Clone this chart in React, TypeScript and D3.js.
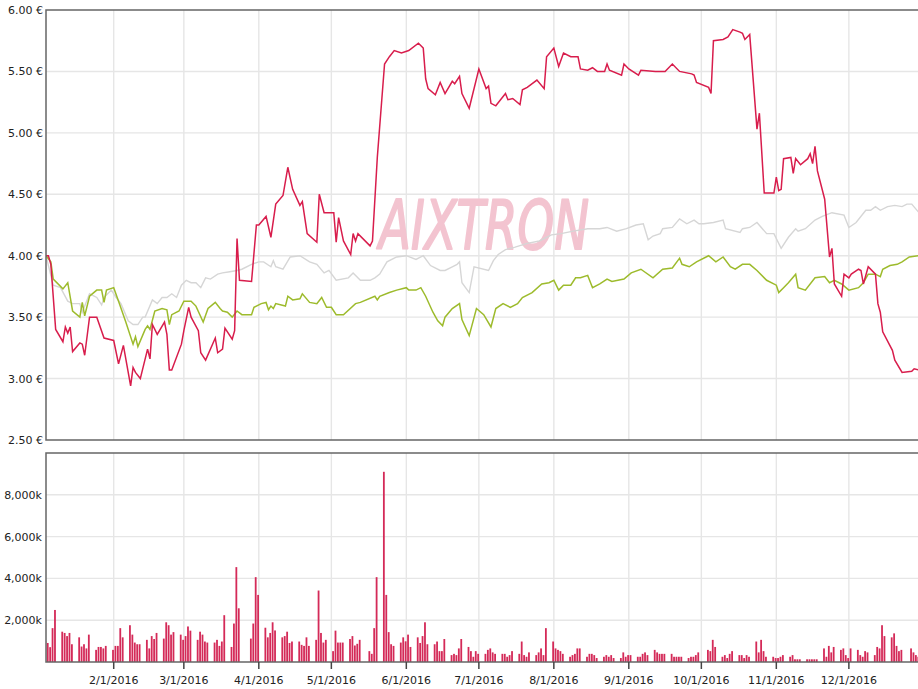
import React, { useEffect, useRef } from "react";
import * as d3 from "d3";

// AIXTRON closing price in EUR, 2016
const aixtronPrice: [string, number][] = [
  ["2016-01-04", 4.0], ["2016-01-05", 4.0], ["2016-01-06", 3.93], ["2016-01-08", 3.4],
  ["2016-01-11", 3.3], ["2016-01-12", 3.42], ["2016-01-13", 3.37], ["2016-01-14", 3.42],
  ["2016-01-15", 3.22], ["2016-01-18", 3.29], ["2016-01-19", 3.28], ["2016-01-20", 3.19],
  ["2016-01-22", 3.5], ["2016-01-25", 3.5], ["2016-01-28", 3.33], ["2016-02-01", 3.31],
  ["2016-02-03", 3.12], ["2016-02-05", 3.27], ["2016-02-08", 2.94], ["2016-02-09", 3.09],
  ["2016-02-10", 3.05], ["2016-02-12", 3.0], ["2016-02-15", 3.24], ["2016-02-16", 3.16],
  ["2016-02-17", 3.44], ["2016-02-19", 3.36], ["2016-02-22", 3.46], ["2016-02-23", 3.36],
  ["2016-02-24", 3.07], ["2016-02-25", 3.07], ["2016-02-29", 3.28], ["2016-03-01", 3.39],
  ["2016-03-03", 3.58], ["2016-03-04", 3.5], ["2016-03-07", 3.39], ["2016-03-08", 3.21],
  ["2016-03-10", 3.15], ["2016-03-14", 3.33], ["2016-03-15", 3.21], ["2016-03-17", 3.24],
  ["2016-03-18", 3.41], ["2016-03-21", 3.32], ["2016-03-22", 3.39], ["2016-03-23", 4.14],
  ["2016-03-24", 3.8], ["2016-03-29", 3.79], ["2016-03-31", 4.25], ["2016-04-01", 4.25],
  ["2016-04-04", 4.32], ["2016-04-06", 4.15], ["2016-04-08", 4.42], ["2016-04-11", 4.49],
  ["2016-04-13", 4.72], ["2016-04-15", 4.54], ["2016-04-18", 4.41], ["2016-04-19", 4.44],
  ["2016-04-21", 4.18], ["2016-04-25", 4.11], ["2016-04-26", 4.5], ["2016-04-28", 4.35],
  ["2016-05-02", 4.35], ["2016-05-03", 4.11], ["2016-05-04", 4.31], ["2016-05-06", 4.12],
  ["2016-05-09", 4.01], ["2016-05-10", 4.18], ["2016-05-11", 4.12], ["2016-05-12", 4.18],
  ["2016-05-17", 4.08], ["2016-05-18", 4.12], ["2016-05-20", 4.8], ["2016-05-23", 5.56],
  ["2016-05-25", 5.62], ["2016-05-27", 5.67], ["2016-05-30", 5.65], ["2016-06-02", 5.67],
  ["2016-06-06", 5.73], ["2016-06-08", 5.69], ["2016-06-09", 5.44], ["2016-06-10", 5.36],
  ["2016-06-13", 5.31], ["2016-06-15", 5.41], ["2016-06-17", 5.32], ["2016-06-20", 5.42],
  ["2016-06-21", 5.4], ["2016-06-23", 5.46], ["2016-06-24", 5.32], ["2016-06-27", 5.2],
  ["2016-07-01", 5.52], ["2016-07-04", 5.36], ["2016-07-05", 5.38], ["2016-07-06", 5.24],
  ["2016-07-08", 5.22], ["2016-07-12", 5.32], ["2016-07-13", 5.27], ["2016-07-15", 5.28],
  ["2016-07-18", 5.23], ["2016-07-19", 5.35], ["2016-07-21", 5.37], ["2016-07-25", 5.43],
  ["2016-07-28", 5.36], ["2016-07-29", 5.62], ["2016-08-01", 5.69], ["2016-08-03", 5.54],
  ["2016-08-05", 5.65], ["2016-08-08", 5.62], ["2016-08-11", 5.62], ["2016-08-12", 5.52],
  ["2016-08-15", 5.51], ["2016-08-17", 5.53], ["2016-08-19", 5.5], ["2016-08-22", 5.5],
  ["2016-08-23", 5.56], ["2016-08-24", 5.51], ["2016-08-29", 5.47], ["2016-08-30", 5.56],
  ["2016-09-01", 5.52], ["2016-09-05", 5.47], ["2016-09-06", 5.51], ["2016-09-12", 5.5],
  ["2016-09-16", 5.5], ["2016-09-19", 5.56], ["2016-09-22", 5.5], ["2016-09-27", 5.48],
  ["2016-09-28", 5.47], ["2016-09-29", 5.41], ["2016-10-04", 5.37], ["2016-10-05", 5.32],
  ["2016-10-06", 5.75], ["2016-10-10", 5.76], ["2016-10-12", 5.78], ["2016-10-14", 5.84],
  ["2016-10-17", 5.82], ["2016-10-18", 5.81], ["2016-10-19", 5.76], ["2016-10-21", 5.8],
  ["2016-10-24", 5.03], ["2016-10-25", 5.16], ["2016-10-27", 4.51], ["2016-10-31", 4.51],
  ["2016-11-01", 4.64], ["2016-11-02", 4.53], ["2016-11-03", 4.54], ["2016-11-04", 4.79],
  ["2016-11-07", 4.8], ["2016-11-08", 4.67], ["2016-11-09", 4.79], ["2016-11-11", 4.74],
  ["2016-11-14", 4.79], ["2016-11-15", 4.83], ["2016-11-16", 4.75], ["2016-11-17", 4.89],
  ["2016-11-18", 4.69], ["2016-11-21", 4.46], ["2016-11-23", 3.99], ["2016-11-24", 4.06],
  ["2016-11-25", 3.77], ["2016-11-28", 3.67], ["2016-11-29", 3.85], ["2016-12-01", 3.82],
  ["2016-12-02", 3.85], ["2016-12-05", 3.89], ["2016-12-06", 3.88], ["2016-12-07", 3.77],
  ["2016-12-09", 3.91], ["2016-12-12", 3.85], ["2016-12-13", 3.61], ["2016-12-14", 3.54],
  ["2016-12-15", 3.38], ["2016-12-19", 3.23], ["2016-12-20", 3.15], ["2016-12-23", 3.05],
  ["2016-12-27", 3.06], ["2016-12-28", 3.08], ["2016-12-30", 3.07],
];

// benchmark (grey), rebased to the start price
const benchGrey: [string, number][] = [
  ["2016-01-04", 4.0], ["2016-01-07", 3.76], ["2016-01-10", 3.74], ["2016-01-13", 3.63],
  ["2016-01-15", 3.61], ["2016-01-18", 3.61], ["2016-01-19", 3.54], ["2016-01-22", 3.69],
  ["2016-01-25", 3.66], ["2016-01-27", 3.6], ["2016-01-28", 3.66], ["2016-01-31", 3.72],
  ["2016-02-02", 3.66], ["2016-02-04", 3.61], ["2016-02-07", 3.47], ["2016-02-09", 3.44],
  ["2016-02-11", 3.44], ["2016-02-13", 3.5], ["2016-02-14", 3.5], ["2016-02-17", 3.64],
  ["2016-02-19", 3.61], ["2016-02-21", 3.66], ["2016-02-23", 3.66], ["2016-02-25", 3.69],
  ["2016-02-27", 3.66], ["2016-02-29", 3.76], ["2016-03-02", 3.8], ["2016-03-04", 3.78],
  ["2016-03-06", 3.78], ["2016-03-08", 3.74], ["2016-03-10", 3.82], ["2016-03-12", 3.81],
  ["2016-03-15", 3.85], ["2016-03-17", 3.86], ["2016-03-20", 3.87], ["2016-03-23", 3.88],
  ["2016-03-25", 3.89], ["2016-03-29", 3.93], ["2016-04-01", 3.95], ["2016-04-03", 3.95],
  ["2016-04-06", 3.91], ["2016-04-07", 3.96], ["2016-04-08", 3.91], ["2016-04-11", 3.89],
  ["2016-04-14", 3.99], ["2016-04-18", 4.0], ["2016-04-22", 3.95], ["2016-04-25", 3.93],
  ["2016-04-28", 3.86], ["2016-04-30", 3.88], ["2016-05-03", 3.8], ["2016-05-08", 3.82],
  ["2016-05-10", 3.86], ["2016-05-13", 3.8], ["2016-05-17", 3.8], ["2016-05-19", 3.82],
  ["2016-05-21", 3.85], ["2016-05-24", 3.95], ["2016-05-28", 3.99], ["2016-06-01", 4.0],
  ["2016-06-05", 3.97], ["2016-06-08", 4.0], ["2016-06-11", 3.92], ["2016-06-15", 3.88],
  ["2016-06-17", 3.88], ["2016-06-20", 3.91], ["2016-06-22", 3.93], ["2016-06-23", 3.95],
  ["2016-06-24", 3.78], ["2016-06-27", 3.7], ["2016-06-29", 3.91], ["2016-07-05", 3.88],
  ["2016-07-07", 3.96], ["2016-07-09", 4.01], ["2016-07-12", 4.05], ["2016-07-16", 4.07],
  ["2016-07-21", 4.1], ["2016-07-26", 4.12], ["2016-07-31", 4.17], ["2016-08-04", 4.18],
  ["2016-08-09", 4.2], ["2016-08-15", 4.22], ["2016-08-20", 4.22], ["2016-08-23", 4.23],
  ["2016-08-27", 4.2], ["2016-08-31", 4.22], ["2016-09-04", 4.25], ["2016-09-07", 4.26],
  ["2016-09-09", 4.13], ["2016-09-11", 4.16], ["2016-09-14", 4.18], ["2016-09-15", 4.22],
  ["2016-09-19", 4.23], ["2016-09-22", 4.3], ["2016-09-25", 4.26], ["2016-09-28", 4.29],
  ["2016-09-30", 4.26], ["2016-10-02", 4.26], ["2016-10-06", 4.27], ["2016-10-10", 4.29],
  ["2016-10-11", 4.22], ["2016-10-17", 4.19], ["2016-10-18", 4.22], ["2016-10-21", 4.23],
  ["2016-10-24", 4.27], ["2016-10-28", 4.18], ["2016-10-31", 4.18], ["2016-11-03", 4.06],
  ["2016-11-06", 4.15], ["2016-11-09", 4.22], ["2016-11-10", 4.2], ["2016-11-13", 4.22],
  ["2016-11-17", 4.29], ["2016-11-20", 4.32], ["2016-11-24", 4.35], ["2016-11-29", 4.33],
  ["2016-12-01", 4.23], ["2016-12-04", 4.27], ["2016-12-08", 4.37], ["2016-12-10", 4.37],
  ["2016-12-12", 4.4], ["2016-12-14", 4.37], ["2016-12-17", 4.4], ["2016-12-20", 4.41],
  ["2016-12-23", 4.4], ["2016-12-25", 4.42], ["2016-12-27", 4.42], ["2016-12-30", 4.35],
];

// benchmark (green), rebased to the start price
const benchGreen: [string, number][] = [
  ["2016-01-04", 4.0], ["2016-01-06", 3.95], ["2016-01-07", 3.81], ["2016-01-11", 3.73],
  ["2016-01-13", 3.78], ["2016-01-15", 3.55], ["2016-01-18", 3.5], ["2016-01-19", 3.62],
  ["2016-01-20", 3.51], ["2016-01-22", 3.67], ["2016-01-25", 3.72], ["2016-01-27", 3.72],
  ["2016-01-28", 3.62], ["2016-01-29", 3.72], ["2016-02-01", 3.74], ["2016-02-03", 3.63],
  ["2016-02-06", 3.46], ["2016-02-09", 3.28], ["2016-02-10", 3.34], ["2016-02-11", 3.26],
  ["2016-02-14", 3.4], ["2016-02-15", 3.43], ["2016-02-16", 3.4], ["2016-02-18", 3.55],
  ["2016-02-21", 3.57], ["2016-02-23", 3.56], ["2016-02-24", 3.44], ["2016-02-25", 3.52],
  ["2016-02-28", 3.55], ["2016-03-01", 3.63], ["2016-03-04", 3.63], ["2016-03-06", 3.59],
  ["2016-03-09", 3.46], ["2016-03-11", 3.57], ["2016-03-14", 3.62], ["2016-03-16", 3.57],
  ["2016-03-17", 3.55], ["2016-03-19", 3.54], ["2016-03-21", 3.5], ["2016-03-23", 3.55],
  ["2016-03-25", 3.52], ["2016-03-29", 3.52], ["2016-03-30", 3.58], ["2016-04-02", 3.61],
  ["2016-04-04", 3.62], ["2016-04-05", 3.56], ["2016-04-06", 3.59], ["2016-04-07", 3.57],
  ["2016-04-08", 3.61], ["2016-04-12", 3.59], ["2016-04-13", 3.67], ["2016-04-15", 3.64],
  ["2016-04-18", 3.65], ["2016-04-19", 3.69], ["2016-04-22", 3.62], ["2016-04-25", 3.61],
  ["2016-04-27", 3.66], ["2016-04-29", 3.58], ["2016-05-01", 3.58], ["2016-05-03", 3.52],
  ["2016-05-06", 3.52], ["2016-05-11", 3.61], ["2016-05-13", 3.62], ["2016-05-19", 3.67],
  ["2016-05-20", 3.64], ["2016-05-21", 3.67], ["2016-05-25", 3.7], ["2016-05-28", 3.72],
  ["2016-06-01", 3.74], ["2016-06-02", 3.72], ["2016-06-05", 3.72], ["2016-06-07", 3.74],
  ["2016-06-09", 3.67], ["2016-06-12", 3.54], ["2016-06-14", 3.47], ["2016-06-16", 3.43],
  ["2016-06-17", 3.5], ["2016-06-20", 3.57], ["2016-06-23", 3.61], ["2016-06-24", 3.48],
  ["2016-06-27", 3.35], ["2016-06-30", 3.57], ["2016-07-03", 3.52], ["2016-07-06", 3.42],
  ["2016-07-08", 3.57], ["2016-07-11", 3.61], ["2016-07-14", 3.58], ["2016-07-17", 3.61],
  ["2016-07-19", 3.66], ["2016-07-23", 3.7], ["2016-07-27", 3.77], ["2016-07-30", 3.78],
  ["2016-08-01", 3.8], ["2016-08-03", 3.72], ["2016-08-05", 3.76], ["2016-08-08", 3.76],
  ["2016-08-10", 3.82], ["2016-08-12", 3.82], ["2016-08-15", 3.84], ["2016-08-17", 3.74],
  ["2016-08-20", 3.77], ["2016-08-23", 3.81], ["2016-08-25", 3.79], ["2016-08-30", 3.81],
  ["2016-09-02", 3.86], ["2016-09-06", 3.89], ["2016-09-11", 3.82], ["2016-09-15", 3.89],
  ["2016-09-19", 3.9], ["2016-09-22", 3.98], ["2016-09-23", 3.93], ["2016-09-26", 3.91],
  ["2016-09-29", 3.95], ["2016-10-04", 4.0], ["2016-10-07", 3.95], ["2016-10-10", 3.99],
  ["2016-10-13", 3.91], ["2016-10-15", 3.89], ["2016-10-18", 3.93], ["2016-10-21", 3.93],
  ["2016-10-24", 3.88], ["2016-10-28", 3.8], ["2016-11-01", 3.76], ["2016-11-02", 3.7],
  ["2016-11-04", 3.74], ["2016-11-06", 3.78], ["2016-11-09", 3.85], ["2016-11-10", 3.74],
  ["2016-11-13", 3.72], ["2016-11-17", 3.82], ["2016-11-21", 3.83], ["2016-11-23", 3.78],
  ["2016-11-25", 3.8], ["2016-11-28", 3.77], ["2016-12-01", 3.72], ["2016-12-05", 3.74],
  ["2016-12-07", 3.78], ["2016-12-09", 3.85], ["2016-12-12", 3.85], ["2016-12-14", 3.83],
  ["2016-12-15", 3.89], ["2016-12-18", 3.92], ["2016-12-21", 3.93], ["2016-12-23", 3.95],
  ["2016-12-26", 3.99], ["2016-12-30", 4.0],
];

// daily volume in thousands, Mon..Fri for each week from 2016-01-04 (0 = no trading)
const volumeWeeks: number[][] = [
  [1000, 910, 710, 1620, 2490], [1450, 1390, 1240, 1390, 850], [1180, 740, 850, 650, 1310],
  [580, 720, 720, 650, 770], [580, 770, 770, 1620, 1180], [1760, 1310, 930, 850, 850],
  [1060, 650, 1240, 1100, 1390], [1120, 1900, 1760, 1310, 1430], [1310, 1060, 1240, 1700, 1500],
  [1060, 1450, 1310, 980, 930], [930, 1060, 770, 980, 2240], [720, 1840, 4540, 2570, 0],
  [0, 1120, 1840, 4060, 3210], [1640, 1180, 1390, 1900, 1510], [1180, 1240, 1450, 910, 980],
  [980, 820, 770, 1180, 770], [1060, 3420, 1390, 930, 1060], [520, 1500, 930, 930, 930],
  [1100, 1240, 790, 870, 1060], [0, 520, 390, 1620, 4060], [9100, 3210, 1430, 850, 770],
  [930, 1180, 990, 1310, 720], [1180, 910, 1240, 1900, 850], [850, 980, 520, 520, 1100],
  [330, 390, 330, 650, 1100], [720, 520, 250, 520, 390], [390, 580, 650, 460, 390],
  [390, 390, 250, 330, 520], [390, 980, 330, 250, 460], [330, 460, 650, 330, 1620],
  [980, 650, 580, 520, 390], [250, 330, 390, 650, 650], [250, 390, 390, 330, 190],
  [250, 330, 250, 330, 190], [190, 460, 250, 330, 330], [250, 250, 390, 460, 330],
  [580, 460, 390, 390, 390], [390, 250, 250, 250, 250], [190, 250, 250, 330, 460],
  [0, 580, 520, 1060, 720], [250, 330, 190, 390, 520], [330, 330, 190, 330, 250],
  [980, 460, 1060, 520, 250], [250, 190, 190, 250, 330], [250, 330, 130, 130, 130],
  [130, 130, 130, 130, 130], [650, 250, 770, 460, 720], [580, 650, 330, 190, 650],
  [580, 330, 250, 520, 460], [330, 720, 650, 1760, 1240], [1180, 1370, 770, 520, 580],
  [0, 650, 460, 330, 250],
];

const priceTicks = [2.5, 3, 3.5, 4, 4.5, 5, 5.5, 6];
const volumeTicks = [2000, 4000, 6000, 8000];
const monthTicks = [
  "2016-02-01", "2016-03-01", "2016-04-01", "2016-05-01", "2016-06-01", "2016-07-01",
  "2016-08-01", "2016-09-01", "2016-10-01", "2016-11-01", "2016-12-01",
];

const W = 918;
const H = 689;
const font = "DejaVu Sans, Verdana, sans-serif";

export default function App() {
  const ref = useRef<SVGSVGElement>(null);

  useEffect(() => {
    const svg = d3.select(ref.current);
    svg.selectAll("*").remove();
    const parse = d3.timeParse("%Y-%m-%d");

    const left = 46;
    const right = 919;
    const x = d3
      .scaleTime()
      .domain([parse("2016-01-04")!, parse("2016-12-30")!])
      .range([left, right]);
    const yP = d3.scaleLinear().domain([2.5, 6]).range([440, 10]);
    const yV = d3.scaleLinear().domain([0, 10000]).range([662, 453]);

    const defs = svg.append("defs");
    defs.append("clipPath").attr("id", "clipTop")
      .append("rect").attr("x", left).attr("y", 10).attr("width", right - left).attr("height", 430);
    defs.append("clipPath").attr("id", "clipBot")
      .append("rect").attr("x", left).attr("y", 453).attr("width", right - left).attr("height", 209);

    const grid = "#e6e6e6";
    const months = monthTicks.map((m) => parse(m)!);

    // grid lines
    const g = svg.append("g").attr("stroke", grid).attr("stroke-width", 1.4);
    months.forEach((d) => {
      g.append("line").attr("x1", x(d)).attr("x2", x(d)).attr("y1", 10).attr("y2", 440);
      g.append("line").attr("x1", x(d)).attr("x2", x(d)).attr("y1", 453).attr("y2", 662);
    });
    priceTicks.slice(1, -1).forEach((v) => {
      g.append("line").attr("x1", left).attr("x2", W).attr("y1", yP(v)).attr("y2", yP(v));
    });
    volumeTicks.forEach((v) => {
      g.append("line").attr("x1", left).attr("x2", W).attr("y1", yV(v)).attr("y2", yV(v));
    });

    // watermark
    svg.append("text")
      .attr("x", 379)
      .attr("y", 249)
      .attr("textLength", 210)
      .attr("lengthAdjust", "spacingAndGlyphs")
      .style("font-family", font)
      .style("font-style", "italic")
      .style("font-size", "67px")
      .attr("fill", "#f3c4d0")
      .attr("stroke", "#f3c4d0")
      .attr("stroke-width", 2)
      .attr("stroke-linejoin", "round")
      .text("AIXTRON");

    // price lines
    const top = svg.append("g").attr("clip-path", "url(#clipTop)");
    const line = d3
      .line<[string, number]>()
      .x((d) => x(parse(d[0])!))
      .y((d) => yP(d[1]));
    top.append("path").attr("d", line(benchGrey)).attr("fill", "none")
      .attr("stroke", "#d6d6d6").attr("stroke-width", 1.4);
    top.append("path").attr("d", line(benchGreen)).attr("fill", "none")
      .attr("stroke", "#9dbb2c").attr("stroke-width", 1.5);
    top.append("path").attr("d", line(aixtronPrice)).attr("fill", "none")
      .attr("stroke", "#d81d4c").attr("stroke-width", 1.5);

    // volume bars
    const start = parse("2016-01-04")!;
    const bars: { date: Date; v: number }[] = [];
    volumeWeeks.forEach((week, w) => {
      week.forEach((v, i) => {
        if (v > 0) bars.push({ date: d3.timeDay.offset(start, w * 7 + i), v });
      });
    });
    svg.append("g").attr("clip-path", "url(#clipBot)")
      .selectAll("rect")
      .data(bars)
      .enter()
      .append("rect")
      .attr("x", (d) => x(d.date) - 1.6)
      .attr("width", 1.8)
      .attr("y", (d) => yV(d.v))
      .attr("height", (d) => yV(0) - yV(d.v))
      .attr("fill", "#d42a58");

    // frames
    const frame = svg.append("g").attr("stroke", "#666").attr("stroke-width", 1.5).attr("fill", "none");
    frame.append("path").attr("d", `M${W},10H${left}V440H${W}`);
    frame.append("path").attr("d", `M${W},453H${left}V662H${W}`);

    // x ticks and labels
    const fmt = d3.timeFormat("%-m/%-d/%Y");
    months.forEach((d) => {
      svg.append("line").attr("x1", x(d)).attr("x2", x(d)).attr("y1", 662).attr("y2", 669)
        .attr("stroke", "#444").attr("stroke-width", 1.5);
      svg.append("text")
        .attr("x", x(d))
        .attr("y", 683.5)
        .attr("text-anchor", "middle")
        .style("font-family", font)
        .style("font-size", "11px")
        .attr("fill", "#222")
        .text(fmt(d));
    });

    // y labels
    priceTicks.forEach((v) => {
      svg.append("text")
        .attr("x", 43)
        .attr("y", yP(v))
        .attr("dy", "0.36em")
        .attr("text-anchor", "end")
        .style("font-family", font)
        .style("font-size", "11px")
        .attr("fill", "#222")
        .text(d3.format(".2f")(v) + " €");
    });
    volumeTicks.forEach((v) => {
      svg.append("text")
        .attr("x", 42)
        .attr("y", yV(v))
        .attr("dy", "0.36em")
        .attr("text-anchor", "end")
        .style("font-family", font)
        .style("font-size", "11px")
        .attr("fill", "#222")
        .text(d3.format(",")(v) + "k");
    });
  }, []);

  return (
    <svg
      ref={ref}
      width={W}
      height={H}
      style={{ position: "absolute", left: 0, top: 0, background: "#fff" }}
    />
  );
}
